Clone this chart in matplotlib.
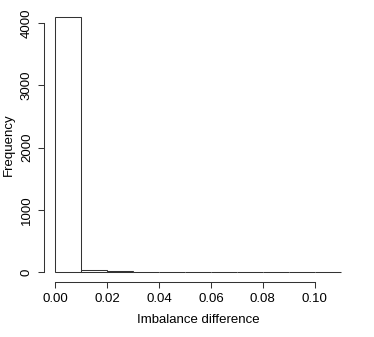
import matplotlib
matplotlib.use("Agg")
import matplotlib.pyplot as plt

# histogram bins (width 0.01) and counts
bin_edges = [0.00, 0.01, 0.02, 0.03, 0.04, 0.05, 0.06, 0.07, 0.08, 0.09, 0.10, 0.11]
counts = [4100, 30, 15, 4, 3, 2, 6, 1, 1, 1, 1]
x_ticks = [0.00, 0.02, 0.04, 0.06, 0.08, 0.10]
x_tick_labels = ["0.00", "0.02", "0.04", "0.06", "0.08", "0.10"]
y_ticks = [0, 1000, 2000, 3000, 4000]

plt.rcParams['font.family'] = ['Liberation Sans', 'DejaVu Sans']
FS = 9.5

W, H = 374, 337
fig = plt.figure(figsize=(W / 100, H / 100), dpi=100)
ax = fig.add_axes([44 / W, 1 - 282.2 / H, (352 - 44) / W, (282.2 - 6.6) / H])

lefts = bin_edges[:-1]
widths = [b - a for a, b in zip(bin_edges[:-1], bin_edges[1:])]
ax.bar(lefts, counts, width=widths, align='edge', color='white',
       edgecolor='#333333', linewidth=0.75)

# R-style 4% padding
x0, x1 = bin_edges[0], bin_edges[-1]
ymax = max(counts)
ax.set_xlim(x0 - 0.04 * (x1 - x0), x1 + 0.04 * (x1 - x0))
ax.set_ylim(-0.04 * ymax, ymax * 1.04)

for s in ['top', 'right']:
    ax.spines[s].set_visible(False)
ax.spines['bottom'].set_bounds(x_ticks[0], x_ticks[-1])
ax.spines['left'].set_bounds(y_ticks[0], y_ticks[-1])
for s in ['bottom', 'left']:
    ax.spines[s].set_linewidth(0.75)
    ax.spines[s].set_color('#333333')

ax.set_xticks(x_ticks)
ax.set_xticklabels(x_tick_labels, fontsize=FS)
ax.set_yticks(y_ticks)
ax.set_yticklabels([str(v) for v in y_ticks], fontsize=FS, rotation=90, va='center')
ax.tick_params(length=4, width=0.75, color='#333333', pad=4)
ax.tick_params(axis='y', pad=4)

ax.set_xlabel('Imbalance difference', fontsize=FS, labelpad=6)
ax.set_ylabel('Frequency', fontsize=FS, labelpad=4)

fig.savefig('out.png', dpi=100)
